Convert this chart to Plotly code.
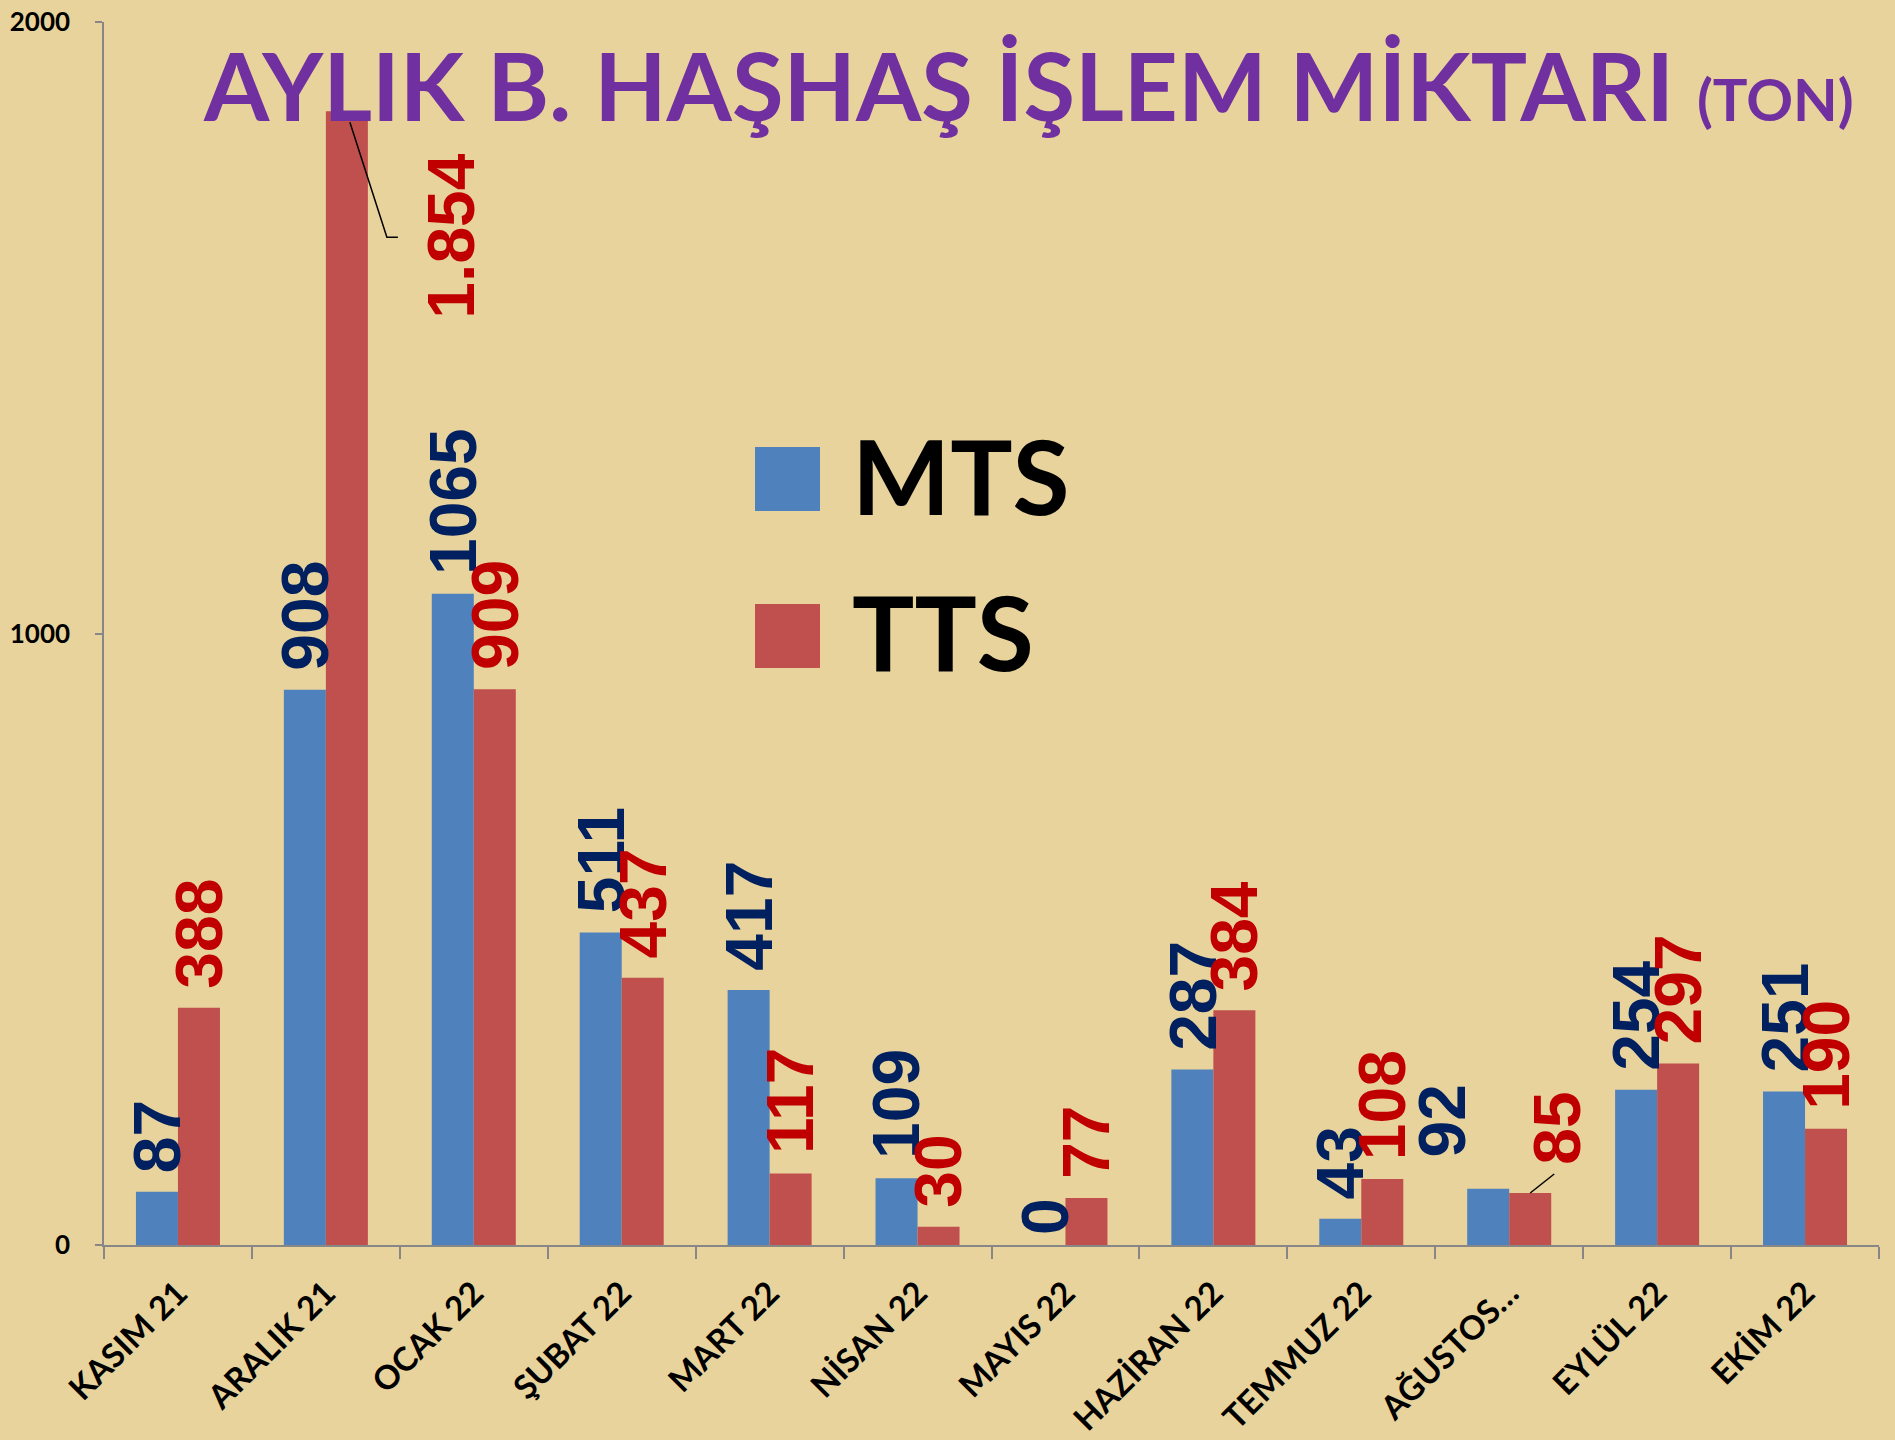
import plotly.graph_objects as go

# Monthly data (tons)
months = ["KASIM 21", "ARALIK 21", "OCAK 22", "ŞUBAT 22", "MART 22", "NİSAN 22",
          "MAYIS 22", "HAZİRAN 22", "TEMMUZ 22", "AĞUSTOS…", "EYLÜL 22", "EKİM 22"]
mts = [87, 908, 1065, 511, 417, 109, 0, 287, 43, 92, 254, 251]
tts = [388, 1854, 909, 437, 117, 30, 77, 384, 108, 85, 297, 190]
y_ticks = [0, 1000, 2000]

BG = "#E8D39C"
BLUE = "#4F81BD"
RED = "#C0504D"
NAVY = "#002060"
DARK_RED = "#C00000"
AXIS = "#878787"

W, H = 1895, 1440
M_L, M_R, M_T, M_B = 104, 16, 22, 195
PW, PH = W - M_L - M_R, H - M_T - M_B
BAR_PX = 42  # rendered bar width in px, used for label offsets


def px_x(p):
    return (p - M_L) / PW


def px_y(p):
    return (H - M_B - p) / PH


fig = go.Figure()
fig.add_trace(go.Bar(name="MTS", x=months, y=mts, marker=dict(color=BLUE, line=dict(width=0))))
fig.add_trace(go.Bar(name="TTS", x=months, y=tts, marker=dict(color=RED, line=dict(width=0))))


def fmt(v, sep):
    return f"{v:,}".replace(",", ".") if sep else str(v)


# per-label tweaks (px): labels nudged away from neighbours
mts_shift = {"AĞUSTOS…": (-46, 12), "MAYIS 22": (0, -9)}
tts_shift = {"ARALIK 21": (104, -226), "AĞUSTOS…": (26, 9)}

annotations = []
for series, color, side, shifts, sep in [
    (mts, NAVY, -1, mts_shift, False),
    (tts, DARK_RED, 1, tts_shift, True),
]:
    for m, v in zip(months, series):
        dx, dy = shifts.get(m, (0, 0))
        annotations.append(dict(
            x=m, y=v, xref="x", yref="y",
            text=fmt(v, sep), showarrow=False, textangle=-90,
            xanchor="center", yanchor="bottom",
            xshift=side * BAR_PX / 2 + dx, yshift=18 + dy,
            borderpad=0,
            font=dict(family="Liberation Sans", size=66, color=color, weight="bold"),
        ))

# title
annotations.append(dict(
    xref="paper", yref="paper", x=px_x(1028), y=px_y(84),
    xanchor="center", yanchor="middle", showarrow=False,
    text="AYLIK B. HAŞHAŞ İŞLEM MİKTARI <span style='font-size:58px'>(TON)</span>",
    font=dict(family="Lato", size=94, color="#7030A0", weight="bold"),
))

# legend entries
legend_items = [("MTS", BLUE, 447), ("TTS", RED, 604)]
shapes = []
for name, color, top in legend_items:
    shapes.append(dict(type="rect", xref="paper", yref="paper",
                       x0=px_x(755), x1=px_x(820), y0=px_y(top + 64), y1=px_y(top),
                       fillcolor=color, line=dict(width=0), layer="above"))
    annotations.append(dict(
        xref="paper", yref="paper", x=px_x(850), y=px_y(top + 27),
        xanchor="left", yanchor="middle", showarrow=False, text=name,
        font=dict(family="Lato", size=104, color="black", weight="bold"),
    ))

# leader lines for the relocated labels
i_ar = months.index("ARALIK 21")
i_ag = months.index("AĞUSTOS…")
off = (BAR_PX / 2) / (PW / len(months))
shapes.append(dict(type="path", xref="x", yref="y",
                   xsizemode="pixel", ysizemode="pixel",
                   xanchor=i_ar + off, yanchor=tts[i_ar],
                   path="M 3,-11 L 40,-126 L 51,-126",
                   line=dict(color="black", width=1.5)))
shapes.append(dict(type="path", xref="x", yref="y",
                   xsizemode="pixel", ysizemode="pixel",
                   xanchor=i_ag + off, yanchor=tts[i_ag],
                   path="M 0,0 L 24,19",
                   line=dict(color="black", width=1.5)))

fig.update_layout(
    template="none",
    width=W, height=H, autosize=False,
    margin=dict(l=M_L, r=M_R, t=M_T, b=M_B, pad=0),
    paper_bgcolor=BG, plot_bgcolor=BG,
    barmode="group", bargap=0.432, bargroupgap=0,
    showlegend=False,
    annotations=annotations, shapes=shapes,
    xaxis=dict(
        type="category", range=[-0.5, len(months) - 0.5], automargin=False,
        showline=True, linecolor=AXIS, linewidth=1.5,
        ticks="outside", tickson="boundaries", ticklen=12, tickcolor=AXIS, tickwidth=1.5,
        tickangle=-45, ticklabelstandoff=14,
        tickfont=dict(family="Lato", size=33, color="black", weight="bold"),
        showgrid=False, zeroline=False,
    ),
    yaxis=dict(
        range=[0, 2000], tickvals=y_ticks, ticktext=[str(t) for t in y_ticks], automargin=False,
        showline=True, linecolor=AXIS, linewidth=1.5,
        ticks="outside", ticklen=7, tickcolor=AXIS, tickwidth=1.5,
        ticklabelstandoff=20,
        tickfont=dict(family="Lato", size=26, color="black", weight="bold"),
        showgrid=False, zeroline=False,
    ),
)

fig.write_html("out.html")
